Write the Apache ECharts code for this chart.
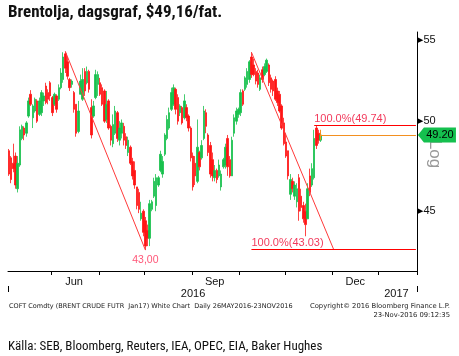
<!DOCTYPE html>
<html><head><meta charset="utf-8">
<script src="https://cdn.jsdelivr.net/npm/echarts@6/dist/echarts.min.js"></script>
<style>html,body{margin:0;padding:0;background:#fff}#c{width:459px;height:356px}</style>
</head><body><div id="c"></div>
<script>
// ---- data ----
const startDate = '2016-05-03';
const holidays = ['2016-05-30', '2016-08-29', '2016-12-26', '2017-01-02'];
const categoryCount = 189;
// one candle per trading day from startDate: [open, close, low, high]
const candles = [
[48.3,47.0,46.9,48.4],[47.9,46.7,46.5,48.0],[47.6,47.3,47.1,48.7],[48.0,46.4,46.2,48.2],[46.2,47.6,46.0,48.0],
[47.5,49.5,47.4,49.7],[49.0,49.7,48.9,49.8],[49.6,49.2,48.9,49.7],[49.3,49.9,49.1,50.0],[50.3,51.2,50.2,51.4],
[51.6,51.0,50.9,51.85],[50.2,50.9,49.6,51.0],[50.6,51.3,50.5,51.4],[51.2,50.0,49.9,51.3],[50.4,51.2,50.3,51.4],
[50.5,51.7,50.3,51.85],[51.2,51.5,50.9,51.7],[52.1,51.1,51.0,52.3],[51.7,51.3,51.0,51.9],[52.3,51.5,51.2,52.4],
[51.4,50.5,50.3,51.5],[51.0,51.6,50.9,51.7],[51.5,50.7,50.5,51.6],[51.3,52.0,51.2,52.2],[52.0,52.9,51.9,53.2],
[52.5,53.9,52.3,54.2],[54.1,53.2,52.9,54.25],[53.6,52.7,52.5,53.9],[52.5,52.0,51.8,52.6],[52.2,52.4,52.0,52.5],
[51.7,50.7,50.5,51.8],[51.0,49.3,49.1,51.0],[49.4,50.6,49.3,51.2],[51.6,52.4,51.6,52.8],[51.3,52.5,51.2,53.2],
[53.0,51.8,51.5,53.2],[52.3,53.0,52.2,53.3],[53.0,51.9,51.7,53.1],[50.8,49.2,49.0,51.3],[50.3,50.9,50.2,51.2],
[51.4,52.8,51.3,53.1],[52.2,52.8,51.5,53.0],[52.3,51.6,51.5,52.6],[52.0,51.0,50.9,52.2],[51.8,50.0,49.9,51.9],
[50.1,51.0,49.9,51.8],[51.2,49.6,49.5,51.3],[49.7,48.9,48.6,49.8],[48.7,49.8,48.5,50.4],[49.3,50.6,49.2,50.9],
[50.5,49.0,48.8,50.6],[48.9,49.6,48.6,50.0],[49.3,49.9,49.0,50.1],[49.7,48.9,48.6,49.9],[49.1,48.6,48.4,49.3],
[48.2,48.9,48.0,49.1],[48.5,47.6,47.5,48.6],[47.7,46.9,46.7,47.9],[47.2,46.4,46.2,47.7],[46.3,45.3,45.1,46.3],
[46.0,45.1,44.9,46.2],[44.6,44.9,44.5,45.5],[45.0,43.9,43.7,45.1],[44.5,43.2,43.0,44.7],[44.0,43.6,43.2,44.3],
[43.6,45.4,43.2,45.6],[45.1,45.5,45.0,45.6],[45.8,46.6,45.7,46.8],[45.3,46.8,45.0,47.0],[46.4,46.8,46.3,46.9],
[47.2,48.1,47.1,48.3],[47.0,47.7,46.8,48.0],[48.1,49.2,48.0,49.3],[49.0,50.1,48.9,50.35],[49.6,50.5,49.5,50.8],
[50.7,51.7,50.6,52.0],[51.0,52.0,50.9,52.2],[51.9,50.7,50.4,52.0],[51.4,50.0,49.8,51.6],[50.5,50.9,50.3,51.0],
[50.8,49.9,49.8,50.9],[50.2,51.2,50.1,51.6],[50.8,50.2,50.0,51.0],[50.3,49.6,49.4,50.4],[49.6,47.9,47.7,49.7],
[48.0,46.3,46.1,48.2],[47.6,46.9,46.4,48.0],[46.6,48.5,46.5,50.1],[48.2,47.4,47.2,48.3],[47.9,48.6,47.8,48.9],
[49.0,50.6,48.9,50.9],[50.5,49.7,49.3,50.7],[49.2,48.2,48.0,49.3],[48.6,47.0,46.8,48.8],[47.8,46.9,46.6,48.2],
[46.8,47.2,46.6,47.5],[47.2,46.7,46.5,47.3],[46.9,47.5,46.8,47.8],[46.3,47.0,46.1,47.2],[47.4,47.8,47.3,47.9],
[47.5,48.5,47.3,48.7],[49.0,47.4,46.9,49.2],[47.8,46.9,46.8,48.0],[46.9,48.9,46.9,49.1],[49.3,50.2,49.1,50.4],
[50.0,50.6,49.8,50.8],[50.4,50.7,50.2,50.8],[50.5,51.7,50.3,51.9],[51.8,51.0,50.9,51.9],[51.9,52.6,51.8,52.7],
[52.2,53.0,52.0,53.2],[52.5,53.6,52.3,53.7],[53.9,52.8,52.6,54.2],[53.4,52.8,52.7,53.8],[53.0,52.4,52.2,53.2],
[52.9,52.2,52.0,53.1],[51.9,52.6,51.8,52.8],[53.1,52.5,52.3,53.3],[52.8,53.3,52.7,53.5],[53.0,53.7,52.9,53.8],
[53.4,52.3,52.1,53.5],[52.6,51.9,51.7,52.8],[52.4,51.8,51.5,52.5],[52.5,51.3,51.2,52.7],[51.8,51.1,50.9,52.0],
[51.6,50.6,50.5,51.8],[50.9,49.6,49.5,51.0],[49.9,48.7,48.6,50.2],[48.8,48.0,47.9,49.3],[48.3,46.9,46.7,48.3],
[45.9,46.7,45.6,47.0],[46.6,46.2,46.0,46.8],[45.8,46.4,45.6,46.6],[45.5,46.2,45.2,46.5],[46.8,45.0,44.5,47.0],
[45.8,45.2,45.0,46.2],[45.3,44.6,44.4,45.5],[45.0,44.3,43.7,45.4],[44.6,46.2,44.6,46.5],[46.9,46.0,45.8,47.3],
[46.4,47.3,46.3,47.6],[46.8,49.0,46.7,49.5],[49.6,48.6,48.4,49.74],[49.3,48.9,48.7,49.5],[48.9,49.2,48.8,49.4]
];
const monthLabels = {'2016-06-15': 'Jun', '2016-09-15': 'Sep', '2016-12-15': 'Dec'};
const yearLabels = {'2016-09-01': '2016', '2017-01-13': '2017'};
const yearDivider = '2017-01-03';
const priceTicks = [45, 50, 55];
const trend1 = [['2016-06-09', 54.25], ['2016-08-01', 43.0]];
const trend2 = [['2016-10-10', 54.2], ['2016-12-01', 43.03]];
const fibLow = {from: '2016-10-10', value: 43.03, text: '100.0%(43.03)'};
const fibHigh = {from: '2016-11-18', value: 49.74, text: '100.0%(49.74)'};
const lastPrice = {date: '2016-11-23', value: 49.20, text: '49.20', tickLow: 48.92, tickHigh: 49.5};
const lowMark = {date: '2016-08-01', value: 43.0, text: '43,00'};

function tradingDays(start, count, skip) {
  const out = [];
  const d = new Date(start + 'T00:00:00Z');
  while (out.length < count) {
    const dow = d.getUTCDay();
    const s = d.toISOString().slice(0, 10);
    if (dow !== 0 && dow !== 6 && skip.indexOf(s) < 0) out.push(s);
    d.setUTCDate(d.getUTCDate() + 1);
  }
  return out;
}
const dates = tradingDays(startDate, categoryCount, holidays);
const lastCat = dates[dates.length - 1];

const narrow = "'Liberation Sans Narrow','Roboto Condensed','DejaVu Sans Condensed',sans-serif";
const fibColor = '#f23a5c';

const chart = echarts.init(document.getElementById('c'), null, {renderer: 'canvas'});
chart.setOption({
  animation: false,
  backgroundColor: '#fff',
  grid: {left: 8, right: 42, top: 32, bottom: 85, containLabel: false},
  xAxis: [{
    type: 'category', data: dates, boundaryGap: true, position: 'bottom',
    axisLine: {show: true, lineStyle: {color: '#000', width: 1}},
    axisTick: {show: true, length: 4, lineStyle: {color: '#000'},
      interval: (i, v) => i > 0 && v.slice(0, 7) !== dates[i - 1].slice(0, 7)},
    axisLabel: {interval: (i, v) => v in monthLabels, formatter: v => monthLabels[v] || '',
      color: '#111', fontSize: 11, fontFamily: 'Liberation Sans', margin: 5},
    splitLine: {show: false}
  }, {
    type: 'category', data: dates, boundaryGap: true, position: 'bottom', offset: 15,
    axisLine: {show: false},
    axisTick: {show: true, length: 6, lineStyle: {color: '#000'}, interval: (i, v) => v === yearDivider},
    axisLabel: {interval: (i, v) => v in yearLabels, formatter: v => yearLabels[v] || '',
      color: '#111', fontSize: 11, fontFamily: 'Liberation Sans', margin: 2},
    splitLine: {show: false}
  }],
  yAxis: {
    type: 'log', position: 'right', min: 41.96, max: 55.5,
    axisLine: {show: true, lineStyle: {color: '#000', width: 1}},
    axisTick: {show: false},
    splitLine: {show: false},
    axisLabel: {
      customValues: priceTicks, margin: 1,
      formatter: v => '{t|\u25B6}{v|' + Math.round(v) + '}',
      rich: {t: {fontSize: 7, color: '#000', fontFamily: 'DejaVu Sans'},
             v: {fontSize: 11, color: '#111', fontFamily: 'Liberation Sans'}}
    }
  },
  series: [{
    type: 'candlestick', data: candles, barWidth: 2,
    itemStyle: {color: '#18c04c', color0: '#ff1414', borderColor: '#18c04c', borderColor0: '#ff1414', borderWidth: 0.8},
    markLine: {
      silent: true, symbol: ['none', 'none'], animation: false,
      data: [
        [{coord: trend1[0], lineStyle: {color: '#ff3a3a', width: 1, type: 'solid'}}, {coord: trend1[1]}],
        [{coord: trend2[0], lineStyle: {color: '#ff3a3a', width: 1, type: 'solid'}}, {coord: trend2[1]}],
        [{coord: [fibLow.from, fibLow.value], lineStyle: {color: '#ff0000', width: 1, type: 'solid'},
          label: {show: true, position: 'insideStartTop', formatter: fibLow.text, color: fibColor, fontSize: 11, fontFamily: 'Liberation Sans', distance: [0, 1]}},
         {coord: [lastCat, fibLow.value]}],
        [{coord: [fibHigh.from, fibHigh.value], lineStyle: {color: '#ff0000', width: 1, type: 'solid'},
          label: {show: true, position: 'insideStartTop', formatter: fibHigh.text, color: fibColor, fontSize: 11, fontFamily: 'Liberation Sans', distance: [0, 1]}},
         {coord: [lastCat, fibHigh.value]}],
        [{coord: [lastPrice.date, lastPrice.value], lineStyle: {color: '#f39020', width: 1, type: 'solid'}},
         {coord: [lastCat, lastPrice.value]}],
        [{coord: [lastPrice.date, lastPrice.tickHigh], lineStyle: {color: '#f39020', width: 1, type: 'solid'}},
         {coord: [lastPrice.date, lastPrice.tickLow]}]
      ],
      label: {show: false}
    },
    markPoint: {
      silent: true, animation: false,
      data: [
        {coord: [lastCat, lastPrice.value], symbol: 'path://M0,7L6,0L38,0L38,14L6,14Z', symbolSize: [38, 15],
         symbolOffset: [21, 0], itemStyle: {color: '#14c04e'},
         label: {show: true, position: 'inside', formatter: lastPrice.text, color: '#000', fontSize: 11, fontFamily: 'Liberation Sans', offset: [3, 0]}},
        {coord: [lowMark.date, lowMark.value], symbol: 'circle', symbolSize: 1, itemStyle: {color: 'rgba(0,0,0,0)'},
         label: {show: true, position: 'bottom', distance: 4, formatter: lowMark.text, color: '#ff5577', fontSize: 10.5, fontFamily: 'Liberation Sans'}}
      ]
    }
  }],
  graphic: [
    {type: 'text', x: 8, y: 13, style: {text: 'Brentolja, dagsgraf, $49,16/fat.', font: 'bold 17px ' + narrow, fill: '#111', textVerticalAlign: 'middle'}},
    {type: 'text', x: 435, y: 154, rotation: -Math.PI / 2, style: {text: 'Log', font: '17px Liberation Sans', fill: '#999', textAlign: 'center', textVerticalAlign: 'middle'}},
    {type: 'text', x: 9, y: 306, style: {text: 'COFT Comdty (BRENT CRUDE FUTR  Jan17) White Chart  Daily 26MAY2016-23NOV2016', font: '6.5px DejaVu Sans', fill: '#222', textVerticalAlign: 'middle'}},
    {type: 'text', x: 450, y: 306, style: {text: 'Copyright\u00A9 2016 Bloomberg Finance L.P.', font: '6.8px DejaVu Sans', fill: '#222', textAlign: 'right', textVerticalAlign: 'middle'}},
    {type: 'text', x: 450, y: 315, style: {text: '23-Nov-2016 09:12:35', font: '6.8px DejaVu Sans', fill: '#222', textAlign: 'right', textVerticalAlign: 'middle'}},
    {type: 'text', x: 8, y: 347, style: {text: 'K\u00E4lla: SEB, Bloomberg, Reuters, IEA, OPEC, EIA, Baker Hughes', font: '13px ' + narrow, fill: '#111', textVerticalAlign: 'middle'}}
  ]
});
</script>
</body></html>
